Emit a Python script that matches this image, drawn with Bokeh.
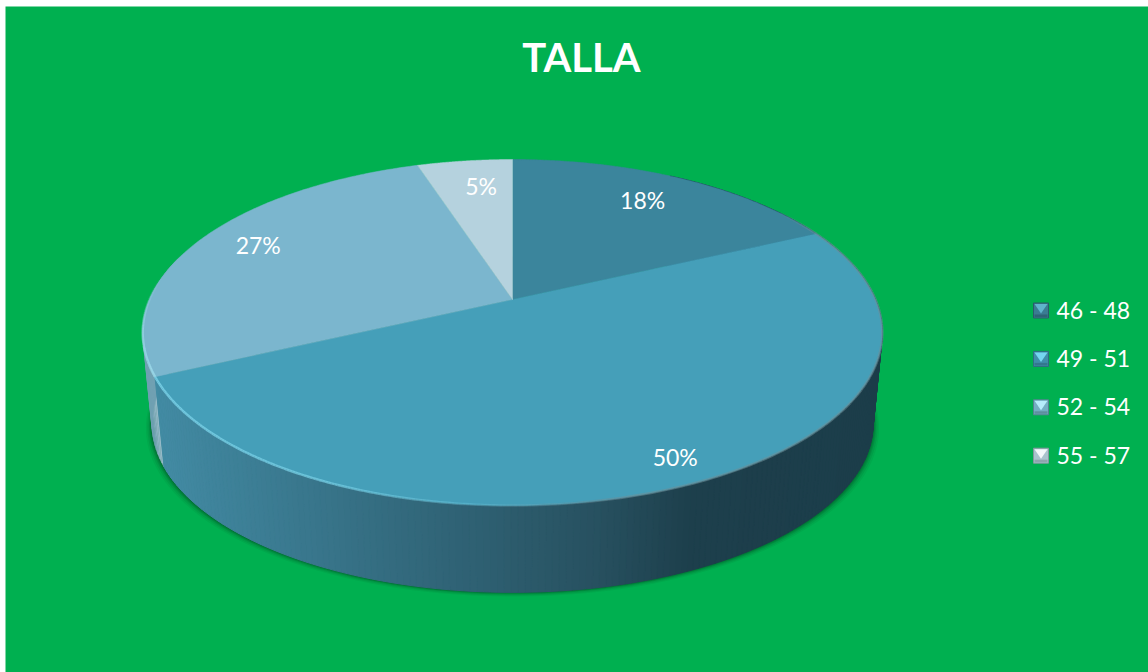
import numpy as np
from bokeh.embed import file_html
from bokeh.models import Range1d
from bokeh.plotting import figure
from bokeh.resources import INLINE
from bokeh.core.properties import value

# Chart content
title_text = "TALLA"
categories = ["46 - 48", "49 - 51", "52 - 54", "55 - 57"]
percentages = [18, 50, 27, 5]

# Styling
BACKGROUND = "#00B050"
FONT = "Lato"
slice_colors = ["#3B859C", "#459FB9", "#7BB6CE", "#B5D2DE"]
legend_base = ["#3A7C92", "#3F8FAA", "#74AEC3", "#A9C3CD"]
legend_light = ["#5FB4CC", "#74D6F0", "#B5ECFA", "#F2F8FA"]
legend_dark = ["#2A5A6B", "#2F6C82", "#55828F", "#84989F"]
label_radius = [0.75, 0.90, 0.80, 0.80]
label_dx = [0, -2, -3, 8]
label_dy = [-5, -3, -5, 1]
side_stops_x = [150, 400, 600, 690, 885]
side_stops_rgb = [(67, 140, 165), (51, 106, 126), (39, 80, 95), (29, 63, 76), (28, 61, 74)]
sliver_near = (150, 186, 200)
sliver_far = (112, 160, 178)

W, H = 1148, 672
CX, CY = 512, 299       # apex of the pie on the page
RX, RY, PERSP = 363.0, 166.7, 0.1908
DEPTH, BASE_SCALE = 92.0, 0.975


def project(theta, r=1.0):
    """Clockwise angle from twelve o'clock to page coordinates, with perspective."""
    u, w = r * np.sin(theta), r * np.cos(theta)
    s = 1.0 / (1.0 + PERSP * w)
    return CX + RX * u * s, CY - RY * w * s


def project_base(theta):
    x, y = project(theta)
    return CX + BASE_SCALE * (x - CX), CY + BASE_SCALE * (y - CY) + DEPTH


def to_hex(rgb):
    return "#%02x%02x%02x" % tuple(int(round(v)) for v in rgb)


def wall_strips(angles):
    """Quads between the top rim and the base rim for consecutive angles."""
    xs, ys = [], []
    for a, b in zip(angles[:-1], angles[1:]):
        ax, ay = project(a)
        bx_, by_ = project(b)
        cx_, cy_ = project_base(b)
        dx_, dy_ = project_base(a)
        xs.append([ax, bx_, cx_, dx_])
        ys.append([ay, by_, cy_, dy_])
    return xs, ys


def faded_rim(t0, t1, alphas_at, color, width):
    """Rim segments whose opacity follows a piecewise-linear ramp over the angle."""
    t = np.linspace(t0, t1, 160)
    x, y = project(t)
    mid = (t[:-1] + t[1:]) / 2
    alpha = np.interp(mid, alphas_at[0], alphas_at[1])
    xs = [[x[i], x[i + 1]] for i in range(len(mid))]
    ys = [[y[i], y[i + 1]] for i in range(len(mid))]
    p.multi_line(xs, ys, line_color=color, line_width=width, line_alpha=list(alpha))


p = figure(width=W, height=H, output_backend="svg", toolbar_location=None,
           x_range=Range1d(0, W), y_range=Range1d(H, 0),
           x_axis_location=None, y_axis_location=None, min_border=0,
           background_fill_color="white", border_fill_color="white",
           outline_line_color=None)
p.grid.visible = False

p.quad(left=[5], right=[W], top=[6], bottom=[H], fill_color=BACKGROUND, line_color=None)

# Angular extents of each slice, from the percentages
edges = np.cumsum([0] + percentages) / sum(percentages) * 2 * np.pi

# Soft shadow under the cake
t_all = np.linspace(0, 2 * np.pi, 240)
bx, by = project_base(t_all)
for grow, alpha in zip([6, 4.5, 3, 2, 1], [0.06, 0.09, 0.12, 0.15, 0.18]):
    sx = CX + (bx - CX) * (1 + grow / 358)
    sy = by + grow * 0.7
    p.patch(sx, sy, fill_color="#003318", fill_alpha=alpha, line_color=None)


def side_color(x):
    return to_hex([np.interp(x, side_stops_x, [c[i] for c in side_stops_rgb]) for i in range(3)])


# Wall of the third slice, visible as a thin band at the far left
back = np.linspace(edges[2], edges[2] + 0.7, 30)
xs, ys = wall_strips(back)
fade = np.clip(np.linspace(0, 1, len(xs)) * 6, 0, 1)
colors = [to_hex([(1 - f) * n + f * m for n, m in zip(sliver_near, sliver_far)]) for f in fade]
p.patches(xs, ys, fill_color=colors, line_color=colors, line_width=0.5)

# Wall of the second slice, narrow strips so the shading runs left to right;
# it starts behind the first slice so the right silhouette stays continuous
xs, ys = wall_strips(np.linspace(edges[1] - 0.6, edges[2], 240))
colors = [side_color(np.mean(q)) for q in xs]
p.patches(xs, ys, fill_color=colors, line_color=colors, line_width=1)

# Top face
for i, color in enumerate(slice_colors):
    t = np.linspace(edges[i], edges[i + 1], 120)
    x, y = project(t)
    p.patch(np.r_[CX, x], np.r_[CY, y], fill_color=color,
            line_color=color, line_width=0.5)

# Soft grey rim on the right, lit rim along the front left
rad = np.radians
grey_ramp = ([edges[1] - 0.2, edges[1], rad(165), rad(185)], [0, 0.55, 0.55, 0])
faded_rim(edges[1] - 0.2, rad(185), grey_ramp, "#6F8F99", 2.5)
lit_ramp = ([rad(170), rad(205), edges[2]], [0, 0.65, 0.8])
faded_rim(rad(170), edges[2], lit_ramp, "#7FD6EC", 2.5)
left_ramp = ([edges[2], edges[2] + 0.25, edges[2] + 0.6], [0.8, 0.6, 0])
faded_rim(edges[2], edges[2] + 0.6, left_ramp, "#A5E4F2", 2.5)

# Percentage labels
mids = (edges[:-1] + edges[1:]) / 2
lx, ly = project(mids, np.array(label_radius))
p.text(lx + np.array(label_dx), ly + np.array(label_dy),
       text=[f"{v}%" for v in percentages], text_color="white",
       text_font=value(FONT), text_font_size="23px",
       text_align="center", text_baseline="middle")

p.text([581], [56], text=[title_text], text_color="white", text_font=value(FONT),
       text_font_style="bold", text_font_size="40px",
       text_align="center", text_baseline="middle")

# Legend with bevelled keys
KEY_X, KEY_Y0, KEY_STEP, KEY = 1033, 310, 48.4, 15
for i, name in enumerate(categories):
    yc = KEY_Y0 + i * KEY_STEP
    l, r, t, b = KEY_X, KEY_X + KEY, yc - KEY / 2, yc + KEY / 2
    p.quad(left=[l], right=[r], top=[t], bottom=[b], fill_color=legend_base[i],
           line_color=legend_dark[i], line_width=1)
    p.patch([l + 1, r - 1, (l + r) / 2], [t + 1, t + 1, yc + 3],
            fill_color=legend_light[i], line_color=None)
    p.quad(left=[l + 1], right=[r - 1], top=[b - 3.5], bottom=[b - 1],
           fill_color=legend_dark[i], fill_alpha=0.7, line_color=None)
    p.text([1056], [yc - 1], text=[name], text_color="white", text_font=value(FONT),
           text_font_size="23px", text_align="left", text_baseline="middle")

open("out.html", "w").write(file_html(p, INLINE))
